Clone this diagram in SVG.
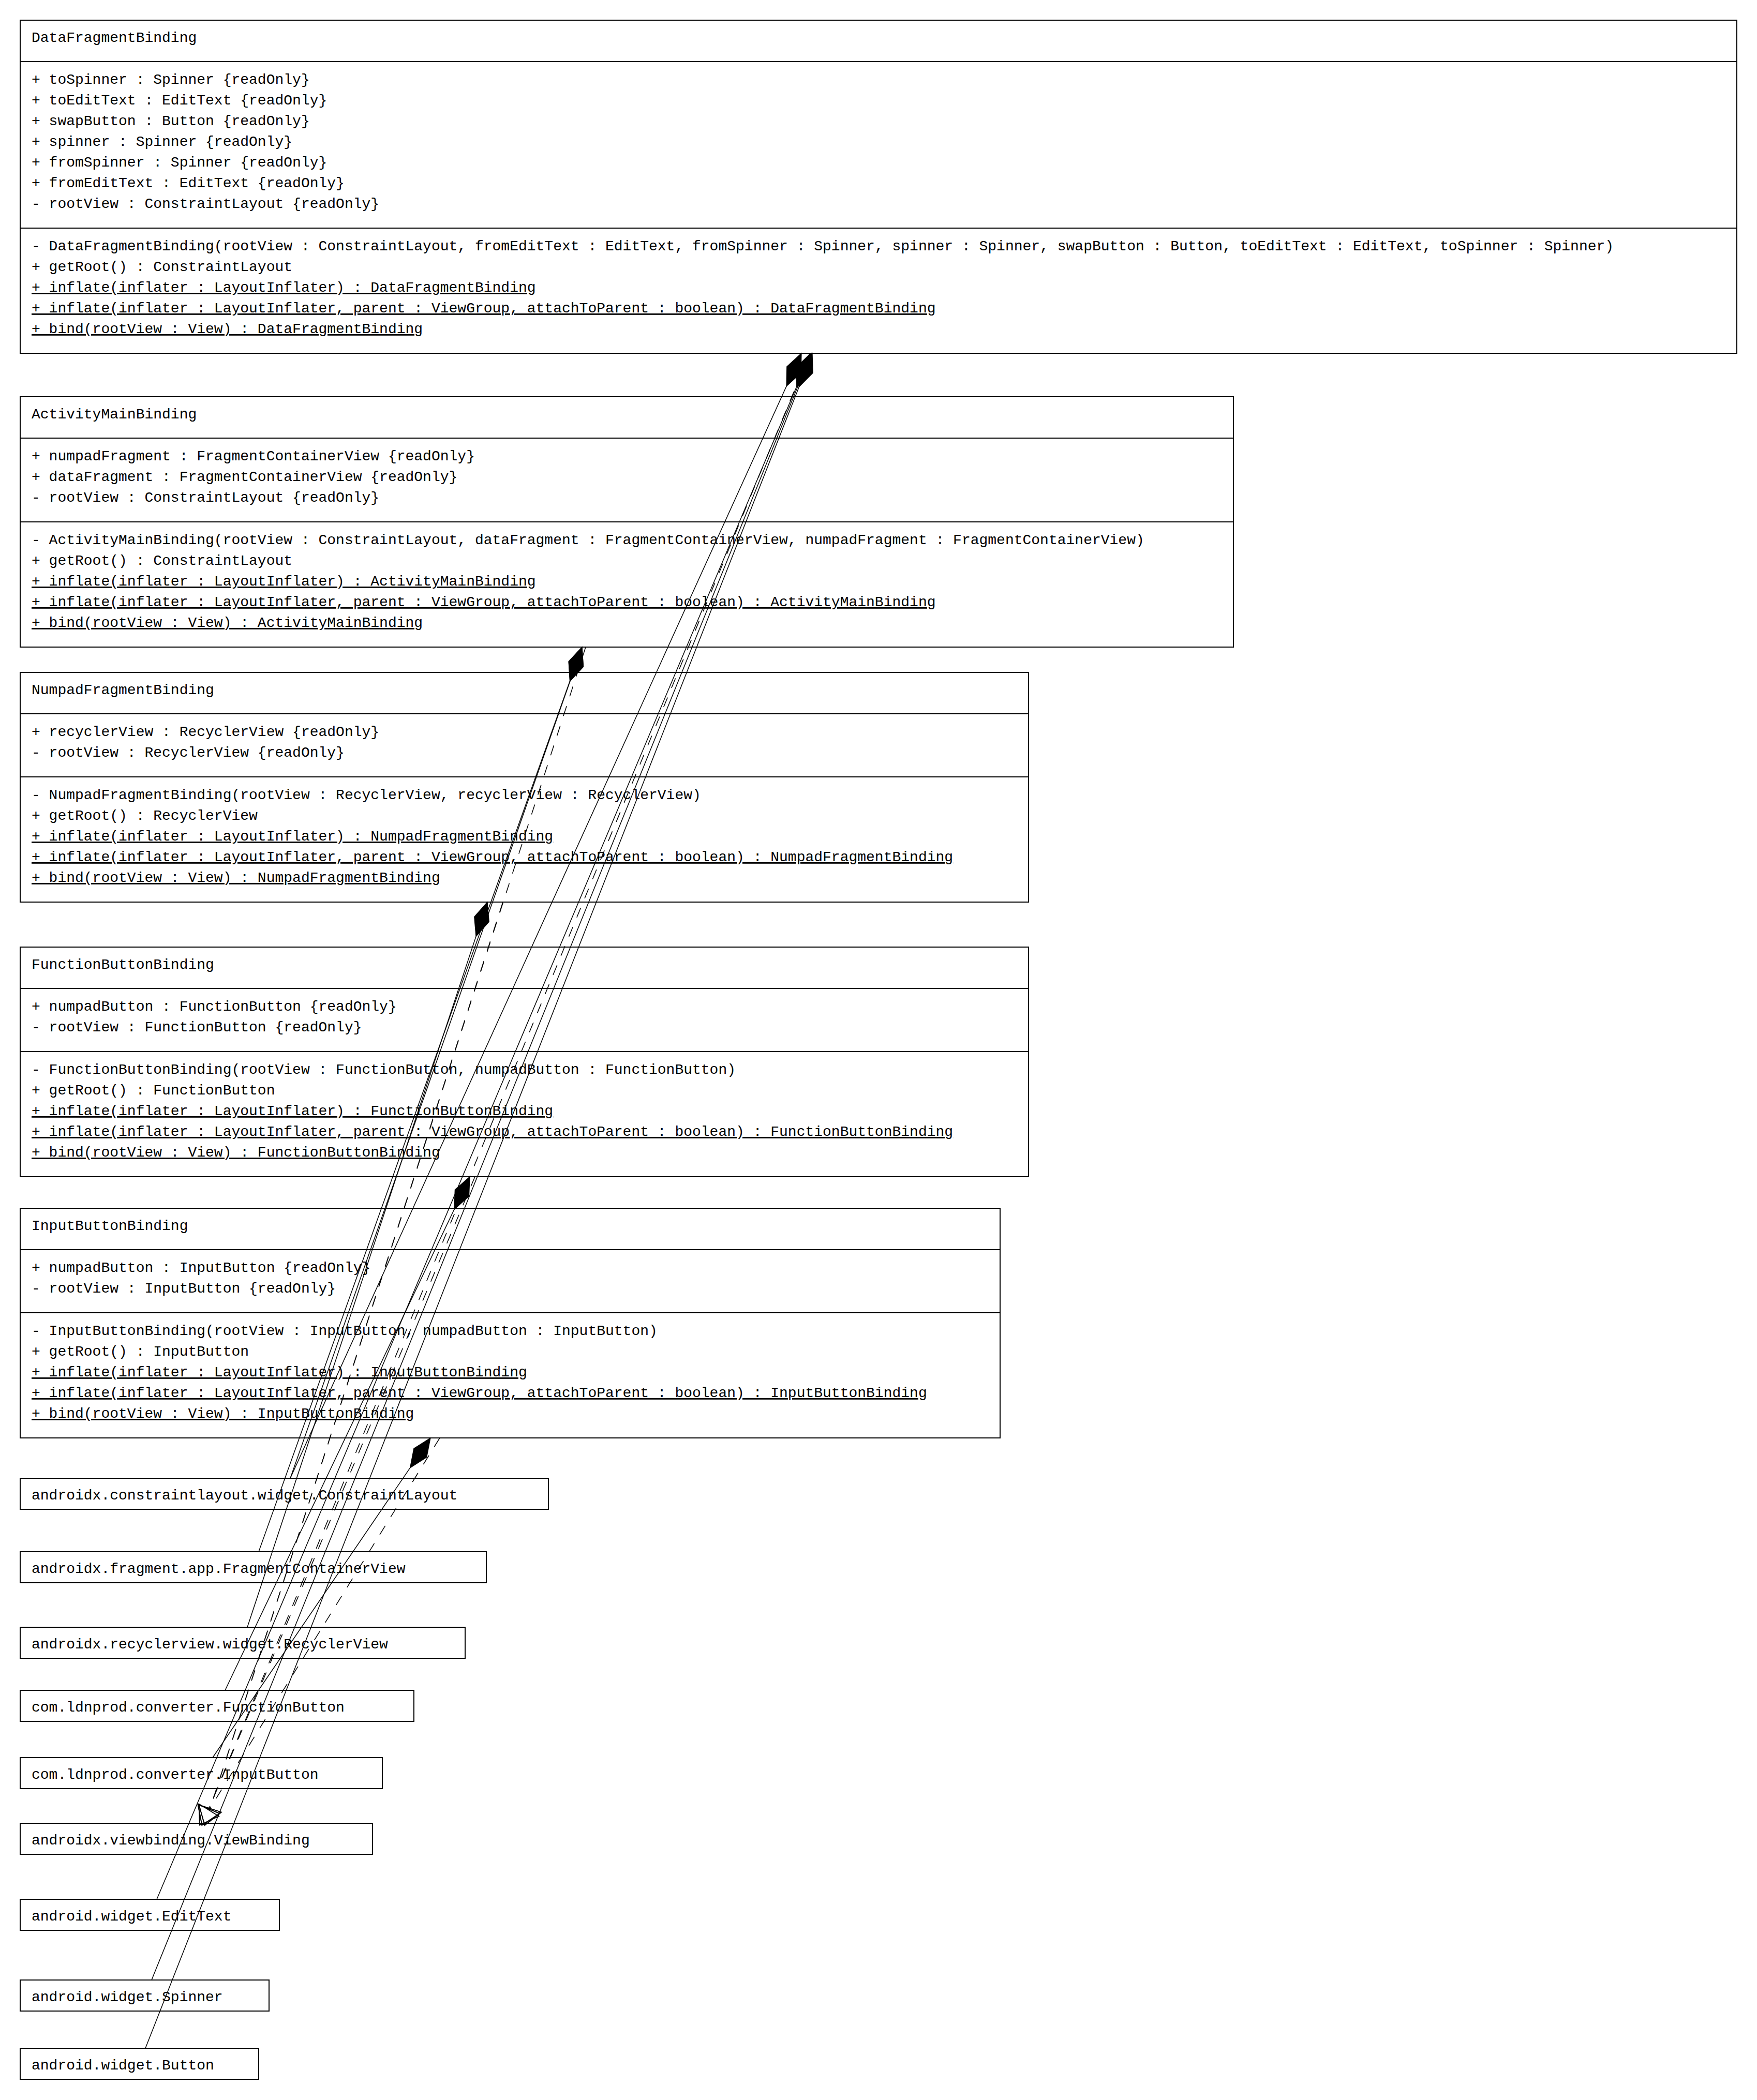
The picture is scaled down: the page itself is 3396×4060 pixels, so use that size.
<svg xmlns="http://www.w3.org/2000/svg" xmlns:xlink="http://www.w3.org/1999/xlink" width="3396" height="4060" viewBox="0 0 3396 4060">
<style>
.box{fill:#fff;stroke:#000;stroke-width:2}
.sep{stroke:#000;stroke-width:2}
.t{font-family:"Liberation Mono","Courier New",monospace;font-size:28px;fill:#000}
.u{text-decoration:underline}
.c{stroke:#000;stroke-width:1.5;fill:none}
.d{stroke-dasharray:20 20}
</style>
<defs>
<marker id="dia" markerUnits="userSpaceOnUse" orient="auto" refX="0" refY="0" markerWidth="80" markerHeight="40" viewBox="-2 -16 62 32" overflow="visible">
<path d="M0,0 L28,-12 L56,0 L28,12 Z" fill="#000" stroke="#000" stroke-width="1"/>
</marker>
<marker id="tri" markerUnits="userSpaceOnUse" orient="auto" refX="0" refY="0" markerWidth="40" markerHeight="50" viewBox="-2 -22 34 44" overflow="visible">
<path d="M30,0 L0,-20 L0,20 Z" fill="none" stroke="#000" stroke-width="1.5" stroke-dasharray="none"/>
</marker>
</defs>
<rect width="3396" height="4060" fill="#fff"/>

<g id="DataFragmentBinding">
<rect class="box" x="39" y="39" width="3318" height="644"/>
<line class="sep" x1="39" y1="119" x2="3357" y2="119"/>
<line class="sep" x1="39" y1="441" x2="3357" y2="441"/>
<text class="t" x="61" y="81">DataFragmentBinding</text>
<text class="t" x="61" y="162">+ toSpinner : Spinner {readOnly}</text>
<text class="t" x="61" y="202">+ toEditText : EditText {readOnly}</text>
<text class="t" x="61" y="242">+ swapButton : Button {readOnly}</text>
<text class="t" x="61" y="282">+ spinner : Spinner {readOnly}</text>
<text class="t" x="61" y="322">+ fromSpinner : Spinner {readOnly}</text>
<text class="t" x="61" y="362">+ fromEditText : EditText {readOnly}</text>
<text class="t" x="61" y="402">- rootView : ConstraintLayout {readOnly}</text>
<text class="t" x="61" y="484">- DataFragmentBinding(rootView : ConstraintLayout, fromEditText : EditText, fromSpinner : Spinner, spinner : Spinner, swapButton : Button, toEditText : EditText, toSpinner : Spinner)</text>
<text class="t" x="61" y="524">+ getRoot() : ConstraintLayout</text>
<text class="t u" x="61" y="564">+ inflate(inflater : LayoutInflater) : DataFragmentBinding</text>
<text class="t u" x="61" y="604">+ inflate(inflater : LayoutInflater, parent : ViewGroup, attachToParent : boolean) : DataFragmentBinding</text>
<text class="t u" x="61" y="644">+ bind(rootView : View) : DataFragmentBinding</text>
</g>

<g id="ActivityMainBinding">
<rect class="box" x="39" y="767" width="2345" height="484"/>
<line class="sep" x1="39" y1="847" x2="2384" y2="847"/>
<line class="sep" x1="39" y1="1009" x2="2384" y2="1009"/>
<text class="t" x="61" y="809">ActivityMainBinding</text>
<text class="t" x="61" y="890">+ numpadFragment : FragmentContainerView {readOnly}</text>
<text class="t" x="61" y="930">+ dataFragment : FragmentContainerView {readOnly}</text>
<text class="t" x="61" y="970">- rootView : ConstraintLayout {readOnly}</text>
<text class="t" x="61" y="1052">- ActivityMainBinding(rootView : ConstraintLayout, dataFragment : FragmentContainerView, numpadFragment : FragmentContainerView)</text>
<text class="t" x="61" y="1092">+ getRoot() : ConstraintLayout</text>
<text class="t u" x="61" y="1132">+ inflate(inflater : LayoutInflater) : ActivityMainBinding</text>
<text class="t u" x="61" y="1172">+ inflate(inflater : LayoutInflater, parent : ViewGroup, attachToParent : boolean) : ActivityMainBinding</text>
<text class="t u" x="61" y="1212">+ bind(rootView : View) : ActivityMainBinding</text>
</g>

<g id="NumpadFragmentBinding">
<rect class="box" x="39" y="1300" width="1949" height="444"/>
<line class="sep" x1="39" y1="1380" x2="1988" y2="1380"/>
<line class="sep" x1="39" y1="1502" x2="1988" y2="1502"/>
<text class="t" x="61" y="1342">NumpadFragmentBinding</text>
<text class="t" x="61" y="1423">+ recyclerView : RecyclerView {readOnly}</text>
<text class="t" x="61" y="1463">- rootView : RecyclerView {readOnly}</text>
<text class="t" x="61" y="1545">- NumpadFragmentBinding(rootView : RecyclerView, recyclerView : RecyclerView)</text>
<text class="t" x="61" y="1585">+ getRoot() : RecyclerView</text>
<text class="t u" x="61" y="1625">+ inflate(inflater : LayoutInflater) : NumpadFragmentBinding</text>
<text class="t u" x="61" y="1665">+ inflate(inflater : LayoutInflater, parent : ViewGroup, attachToParent : boolean) : NumpadFragmentBinding</text>
<text class="t u" x="61" y="1705">+ bind(rootView : View) : NumpadFragmentBinding</text>
</g>

<g id="FunctionButtonBinding">
<rect class="box" x="39" y="1831" width="1949" height="444"/>
<line class="sep" x1="39" y1="1911" x2="1988" y2="1911"/>
<line class="sep" x1="39" y1="2033" x2="1988" y2="2033"/>
<text class="t" x="61" y="1873">FunctionButtonBinding</text>
<text class="t" x="61" y="1954">+ numpadButton : FunctionButton {readOnly}</text>
<text class="t" x="61" y="1994">- rootView : FunctionButton {readOnly}</text>
<text class="t" x="61" y="2076">- FunctionButtonBinding(rootView : FunctionButton, numpadButton : FunctionButton)</text>
<text class="t" x="61" y="2116">+ getRoot() : FunctionButton</text>
<text class="t u" x="61" y="2156">+ inflate(inflater : LayoutInflater) : FunctionButtonBinding</text>
<text class="t u" x="61" y="2196">+ inflate(inflater : LayoutInflater, parent : ViewGroup, attachToParent : boolean) : FunctionButtonBinding</text>
<text class="t u" x="61" y="2236">+ bind(rootView : View) : FunctionButtonBinding</text>
</g>

<g id="InputButtonBinding">
<rect class="box" x="39" y="2336" width="1894" height="444"/>
<line class="sep" x1="39" y1="2416" x2="1933" y2="2416"/>
<line class="sep" x1="39" y1="2538" x2="1933" y2="2538"/>
<text class="t" x="61" y="2378">InputButtonBinding</text>
<text class="t" x="61" y="2459">+ numpadButton : InputButton {readOnly}</text>
<text class="t" x="61" y="2499">- rootView : InputButton {readOnly}</text>
<text class="t" x="61" y="2581">- InputButtonBinding(rootView : InputButton, numpadButton : InputButton)</text>
<text class="t" x="61" y="2621">+ getRoot() : InputButton</text>
<text class="t u" x="61" y="2661">+ inflate(inflater : LayoutInflater) : InputButtonBinding</text>
<text class="t u" x="61" y="2701">+ inflate(inflater : LayoutInflater, parent : ViewGroup, attachToParent : boolean) : InputButtonBinding</text>
<text class="t u" x="61" y="2741">+ bind(rootView : View) : InputButtonBinding</text>
</g>

<g id="ConstraintLayout"><rect class="box" x="39" y="2858" width="1021" height="60"/><text class="t" x="61" y="2899">androidx.constraintlayout.widget.ConstraintLayout</text></g>
<g id="FragmentContainerView"><rect class="box" x="39" y="3000" width="901" height="60"/><text class="t" x="61" y="3041">androidx.fragment.app.FragmentContainerView</text></g>
<g id="RecyclerView"><rect class="box" x="39" y="3146" width="860" height="60"/><text class="t" x="61" y="3187">androidx.recyclerview.widget.RecyclerView</text></g>
<g id="FunctionButton"><rect class="box" x="39" y="3268" width="761" height="60"/><text class="t" x="61" y="3309">com.ldnprod.converter.FunctionButton</text></g>
<g id="InputButton"><rect class="box" x="39" y="3398" width="700" height="60"/><text class="t" x="61" y="3439">com.ldnprod.converter.InputButton</text></g>
<g id="ViewBinding"><rect class="box" x="39" y="3525" width="681" height="60"/><text class="t" x="61" y="3566">androidx.viewbinding.ViewBinding</text></g>
<g id="EditText"><rect class="box" x="39" y="3672" width="501" height="60"/><text class="t" x="61" y="3713">android.widget.EditText</text></g>
<g id="Spinner"><rect class="box" x="39" y="3828" width="481" height="60"/><text class="t" x="61" y="3869">android.widget.Spinner</text></g>
<g id="Button"><rect class="box" x="39" y="3960" width="461" height="60"/><text class="t" x="61" y="4001">android.widget.Button</text></g>

<g id="connectors">
<line class="c" x1="1549" y1="683" x2="561" y2="2858" marker-start="url(#dia)"/>
<line class="c" x1="1567" y1="683" x2="303" y2="3672" marker-start="url(#dia)"/>
<line class="c" x1="1568" y1="683" x2="293" y2="3828" marker-start="url(#dia)"/>
<line class="c" x1="1570" y1="683" x2="281" y2="3960" marker-start="url(#dia)"/>
<line class="c" x1="1125" y1="1251" x2="561" y2="2858" marker-start="url(#dia)"/>
<line class="c" x1="1125" y1="1251" x2="500" y2="3000" marker-start="url(#dia)"/>
<line class="c" x1="942" y1="1744" x2="478" y2="3146" marker-start="url(#dia)"/>
<line class="c" x1="908" y1="2275" x2="435" y2="3268" marker-start="url(#dia)"/>
<line class="c" x1="832" y1="2780" x2="411" y2="3398" marker-start="url(#dia)"/>
<line class="c d" x1="1565" y1="683" x2="403.4" y2="3497.3" marker-end="url(#tri)"/>
<line class="c d" x1="1132" y1="1251" x2="406.2" y2="3496.5" marker-end="url(#tri)"/>
<line class="c d" x1="972" y1="1744" x2="406.2" y2="3496.5" marker-end="url(#tri)"/>
<line class="c d" x1="918" y1="2275" x2="403.6" y2="3497.3" marker-end="url(#tri)"/>
<line class="c d" x1="850" y1="2780" x2="403.8" y2="3499.5" marker-end="url(#tri)"/>
</g>
</svg>
